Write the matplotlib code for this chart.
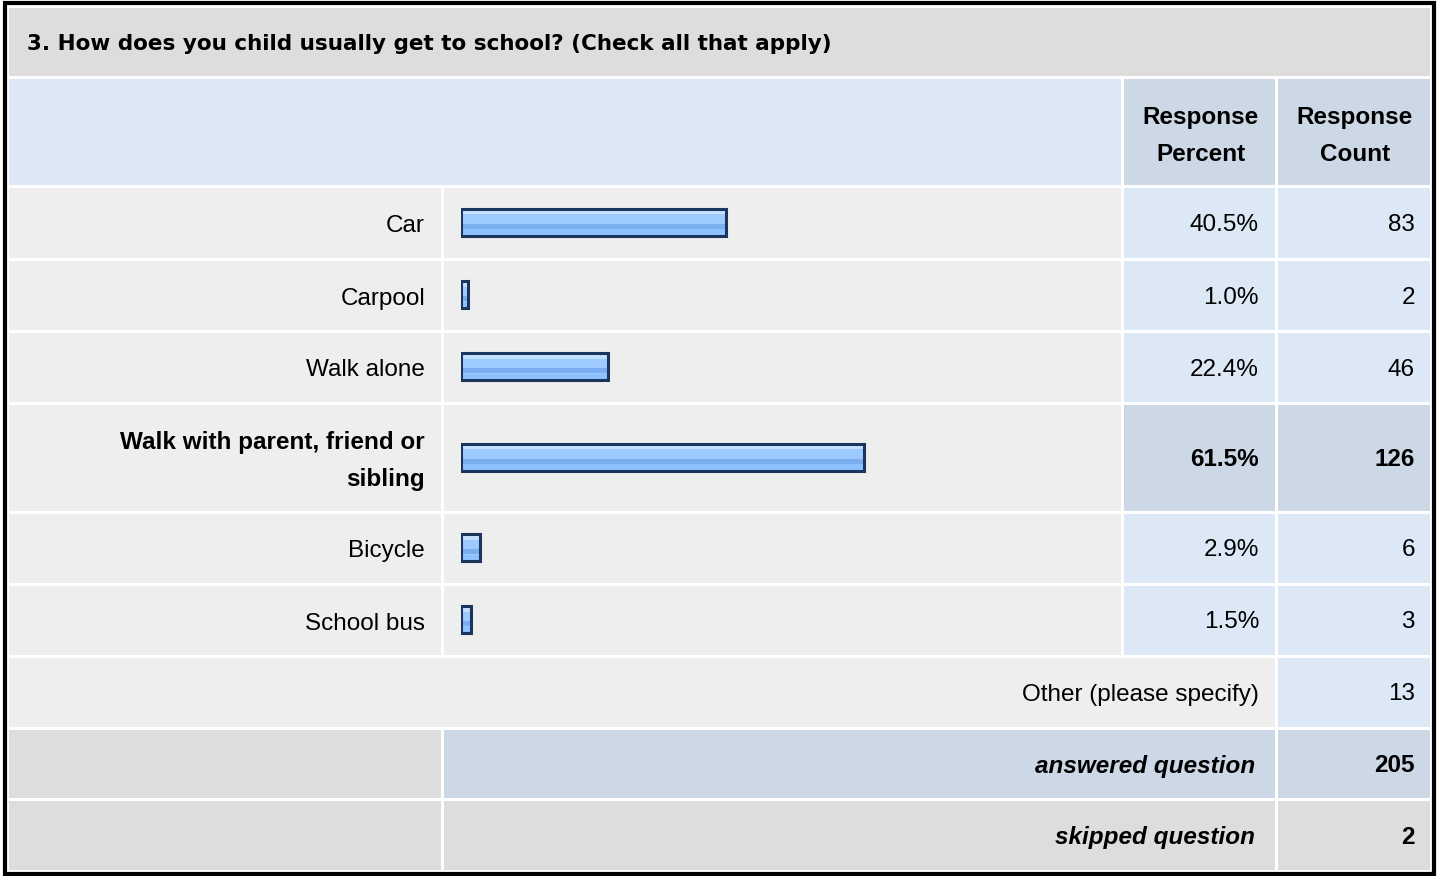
"""Survey results table: how children get to school."""

import matplotlib
matplotlib.use("Agg")
import matplotlib.pyplot as plt
from matplotlib.patches import Rectangle

W, H = 1437, 876

TITLE = "3. How does you child usually get to school? (Check all that apply)"
labels = ["Car", "Carpool", "Walk alone", "Walk with parent, friend or\nsibling",
          "Bicycle", "School bus"]
percents = [40.5, 1.0, 22.4, 61.5, 2.9, 1.5]
counts = [83, 2, 46, 126, 6, 3]
other_count = 13
answered = 205
skipped = 2
highlight = 3  # the row shown in bold

# layout (pixels)
COLS = [(9, 441), (444, 1121), (1124, 1275), (1278, 1430)]
TITLE_Y = (8, 76)
HEAD_Y = (79, 185)
ROW_Y = [(188, 258), (261, 330), (333, 402), (405, 511), (514, 583), (586, 655)]
OTHER_Y = (658, 727)
ANS_Y = (730, 798)
SKIP_Y = (801, 870)

GRAY = "#dddddd"
LIGHT = "#eeeeee"
BLUE = "#dce8f5"
BLUE2 = "#ccd8e6"

plt.rcParams["font.family"] = ["Liberation Sans", "DejaVu Sans"]
FS = 17.5

fig = plt.figure(figsize=(W / 100, H / 100), dpi=100)
fig.patch.set_facecolor("white")
ax = fig.add_axes([0, 0, 1, 1])
ax.set_xlim(0, W)
ax.set_ylim(H, 0)
ax.axis("off")


def cell(x0, x1, y0, y1, color):
    ax.add_patch(Rectangle((x0, y0), x1 - x0, y1 - y0, facecolor=color,
                           edgecolor="none", zorder=1))


def mid(span):
    return (span[0] + span[1]) / 2 + 1


# outer frame
ax.add_patch(Rectangle((4.5, 2.5), 1429, 871, facecolor="none",
                       edgecolor="black", linewidth=3, zorder=3))

# title
cell(COLS[0][0], COLS[3][1], *TITLE_Y, GRAY)
ax.text(27, mid(TITLE_Y) + 1, TITLE, fontsize=15.5, fontweight="bold",
        family=["DejaVu Sans"], ha="left", va="center", zorder=4)

# header
cell(COLS[0][0], COLS[1][1], *HEAD_Y, BLUE)
for c, txt in zip(COLS[2:], ["Response\nPercent", "Response\nCount"]):
    cell(*c, *HEAD_Y, BLUE2)
    ax.text(mid(c), mid(HEAD_Y) + 3, txt, fontsize=FS, fontweight="bold",
            ha="center", va="center", linespacing=1.8, zorder=4)

# data rows
for i, (lab, p, n, ys) in enumerate(zip(labels, percents, counts, ROW_Y)):
    hot = i == highlight
    cell(*COLS[0], *ys, LIGHT)
    cell(*COLS[1], *ys, LIGHT)
    cell(*COLS[2], *ys, BLUE2 if hot else BLUE)
    cell(*COLS[3], *ys, BLUE2 if hot else BLUE)
    w = "bold" if hot else "normal"
    ax.text(425, mid(ys) + 2, lab, fontsize=FS, fontweight=w, ha="right",
            va="center", linespacing=1.8, zorder=4)
    ax.text(1259, mid(ys) + 1, f"{p:.1f}%", fontsize=FS, fontweight=w,
            ha="right", va="center", zorder=4)
    ax.text(1415, mid(ys) + 1, str(n), fontsize=FS, fontweight=w,
            ha="right", va="center", zorder=4)

# other row
cell(COLS[0][0], COLS[2][1], *OTHER_Y, LIGHT)
cell(*COLS[3], *OTHER_Y, BLUE)
ax.text(1259, mid(OTHER_Y) + 1, "Other (please specify)", fontsize=FS,
        ha="right", va="center", zorder=4)
ax.text(1415, mid(OTHER_Y) + 1, str(other_count), fontsize=FS,
        ha="right", va="center", zorder=4)

# summary rows
for ys, txt, val, col in [(ANS_Y, "answered question", answered, BLUE2),
                          (SKIP_Y, "skipped question", skipped, GRAY)]:
    cell(*COLS[0], *ys, GRAY)
    cell(COLS[1][0], COLS[2][1], *ys, col)
    cell(*COLS[3], *ys, col)
    ax.text(1255, mid(ys) + 1, txt, fontsize=FS, fontweight="bold",
            fontstyle="italic", ha="right", va="center", zorder=4)
    ax.text(1415, mid(ys) + 1, str(val), fontsize=FS, fontweight="bold",
            ha="right", va="center", zorder=4)

# bars: separate axes, x in percent
BAR_X0, BAR_FULL = 461, 655
bx = fig.add_axes([BAR_X0 / W, 0, BAR_FULL / W, 1])
bx.set_xlim(0, 100)
bx.set_ylim(H, 0)
bx.axis("off")
bx.patch.set_alpha(0)
centers = [(ys[0] + ys[1]) / 2 - 1 for ys in ROW_Y]
BH = 27
bx.barh(centers, percents, height=BH, color="#9ecbff", zorder=2)
# glossy bands
bx.barh([c - BH / 2 + 3 for c in centers], percents, height=5,
        color="#c4e0ff", zorder=3)
bx.barh([c + BH / 2 - 9.5 for c in centers], percents, height=5,
        color="#7aaef0", zorder=3)
bx.barh([c + BH / 2 - 3.5 for c in centers], percents, height=6,
        color="#8ec1ff", zorder=3)
bx.barh(centers, percents, height=BH, facecolor="none",
        edgecolor="#1b365d", linewidth=2.2, zorder=4)

fig.savefig("out.png", dpi=100, facecolor="white")
